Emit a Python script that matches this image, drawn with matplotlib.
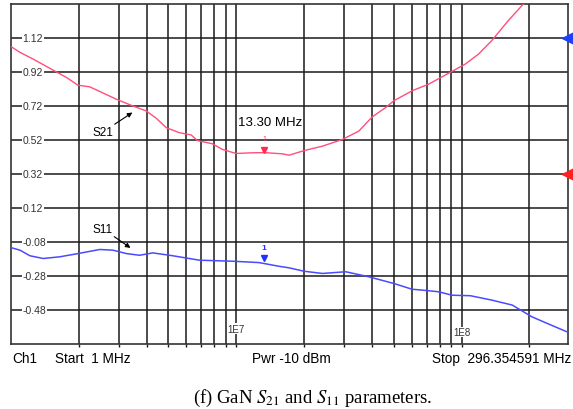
import numpy as np
import matplotlib.pyplot as plt

# S21 trace (MHz, linear magnitude)
s21_freq = [1.0, 1.096, 1.251, 1.488, 1.764, 1.979, 2.236, 2.476, 2.936, 3.466, 3.985,
            4.413, 4.886, 5.595, 6.304, 6.722, 7.831, 8.670, 9.97, 11.77, 13.3, 15.98,
            17.16, 20.0, 24.1, 29.5, 35.0, 40.1, 45.97, 50.0, 60.3, 71.4, 90.6, 103.8,
            118.9, 136.2, 161.4, 191.3, 215.0]
s21_val = [1.069, 1.035, 0.996, 0.941, 0.887, 0.842, 0.832, 0.805, 0.759, 0.720, 0.690,
           0.647, 0.592, 0.562, 0.549, 0.516, 0.497, 0.464, 0.440, 0.444, 0.445, 0.438,
           0.430, 0.457, 0.483, 0.522, 0.572, 0.655, 0.710, 0.750, 0.809, 0.848, 0.923,
           0.966, 1.025, 1.105, 1.223, 1.331, 1.40]

# S11 trace
s11_freq = [1.0, 1.096, 1.214, 1.391, 1.647, 1.984, 2.476, 2.834, 3.251, 3.72, 4.26, 5.23,
            6.86, 9.64, 12.6, 15.5, 17.16, 20.0, 24.1, 30.6, 38.8, 50.0, 60.3, 66.9,
            79.3, 90.6, 109.3, 136.2, 167.7, 205.0, 234.0, 296.35]
s11_val = [-0.114, -0.129, -0.162, -0.178, -0.168, -0.149, -0.125, -0.129, -0.149, -0.159,
           -0.145, -0.162, -0.188, -0.194, -0.202, -0.224, -0.233, -0.253, -0.266, -0.256,
           -0.286, -0.325, -0.359, -0.364, -0.374, -0.394, -0.397, -0.423, -0.452, -0.521,
           -0.554, -0.612]

y_ticks = [1.12, 0.92, 0.72, 0.52, 0.32, 0.12, -0.08, -0.28, -0.48]
marker_freq = 13.3

plt.rcParams['font.family'] = ['Liberation Sans', 'DejaVu Sans']
plt.rcParams['mathtext.fontset'] = 'stix'

fig = plt.figure(figsize=(5.73, 4.10), dpi=100)
ax = fig.add_axes([0.0192, 0.159, 0.972, 0.829])
ax.set_xscale('log')
ax.set_xlim(1.0, 296.354591)
ax.set_ylim(-0.68, 1.32)

# grid
grid_x = [f * d for d in (1, 10, 100) for f in range(1, 10) if 1 < f * d < 296]
for gx in grid_x:
    ax.axvline(gx, color='#1a1a1a', lw=1.1, zorder=1)
for gy in np.arange(-0.48, 1.2, 0.2):
    ax.axhline(gy, color='#1a1a1a', lw=1.1, zorder=1)
for s in ax.spines.values():
    s.set_color('#333333')
    s.set_linewidth(1.2)
ax.minorticks_off()
ax.set_xticks(grid_x)
ax.set_xticklabels([])
ax.tick_params(axis='x', direction='out', length=2.5, width=1.0, color='#1a1a1a')
ax.set_yticks([])

for t in y_ticks:
    ax.text(0.021, t, '%.2f' % t, transform=ax.get_yaxis_transform(), fontsize=7.5,
            color='#333333', va='center', ha='left', zorder=3,
            bbox=dict(facecolor='white', edgecolor='none', pad=0.6))

ax.plot(s21_freq, s21_val, color='#ff4f7a', lw=1.0, zorder=4)
ax.plot(s11_freq, s11_val, color='#4a4aff', lw=1.1, zorder=4)

# reference markers on right edge
ax.plot([1.0], [1.12], marker='<', color='#1f3fff', ms=8, transform=ax.get_yaxis_transform(),
        clip_on=False, zorder=5)
ax.plot([1.0], [0.32], marker='<', color='#ff2020', ms=8, transform=ax.get_yaxis_transform(),
        clip_on=False, zorder=5)

# marker 1
ax.plot([marker_freq], [0.462], marker='v', color='#ff2a50', ms=5, zorder=5)
ax.text(marker_freq, 0.53, '1', color='#ff2a50', fontsize=5, ha='center', va='center')
ax.plot([marker_freq], [-0.178], marker='v', color='#2030ff', ms=5, zorder=5)
ax.text(marker_freq, -0.112, '1', color='#2030ff', fontsize=6, ha='center', va='center',
        fontweight='bold')
ax.text(14.1, 0.627, '13.30 MHz', fontsize=9.5, ha='center', va='center',
        zorder=5, bbox=dict(facecolor='white', edgecolor='none', pad=0.3))

# trace labels
ax.annotate('S21', xy=(3.54, 0.69), xytext=(2.55, 0.565), fontsize=8.5, ha='center',
            va='center',
            arrowprops=dict(arrowstyle='-|>', color='black', lw=0.8, mutation_scale=7),
            bbox=dict(facecolor='white', edgecolor='none', pad=0.3), zorder=6)
ax.annotate('S11', xy=(3.47, -0.125), xytext=(2.55, -0.002), fontsize=8.5, ha='center',
            va='center',
            arrowprops=dict(arrowstyle='-|>', color='black', lw=0.8, mutation_scale=7),
            bbox=dict(facecolor='white', edgecolor='none', pad=0.3), zorder=6)

ax.text(10.0, -0.59, '1E7', fontsize=7, color='#333333', ha='center', va='center',
        bbox=dict(facecolor='white', edgecolor='none', pad=0.3), zorder=3)
ax.text(100.0, -0.61, '1E8', fontsize=7, color='#333333', ha='center', va='center',
        bbox=dict(facecolor='white', edgecolor='none', pad=0.3), zorder=3)

# status line
fig.text(0.021, 0.125, 'Ch1', fontsize=9.8, va='center')
fig.text(0.096, 0.125, 'Start  1 MHz', fontsize=9.8, va='center')
fig.text(0.44, 0.125, 'Pwr -10 dBm', fontsize=9.8, va='center')
fig.text(0.997, 0.125, 'Stop  296.354591 MHz', fontsize=9.8, va='center', ha='right')

fig.text(0.545, 0.029, r'(f) GaN $S_{21}$ and $S_{11}$ parameters.', fontsize=13.5,
         family='Liberation Serif', ha='center', va='center')

fig.savefig('out.png', dpi=100)
